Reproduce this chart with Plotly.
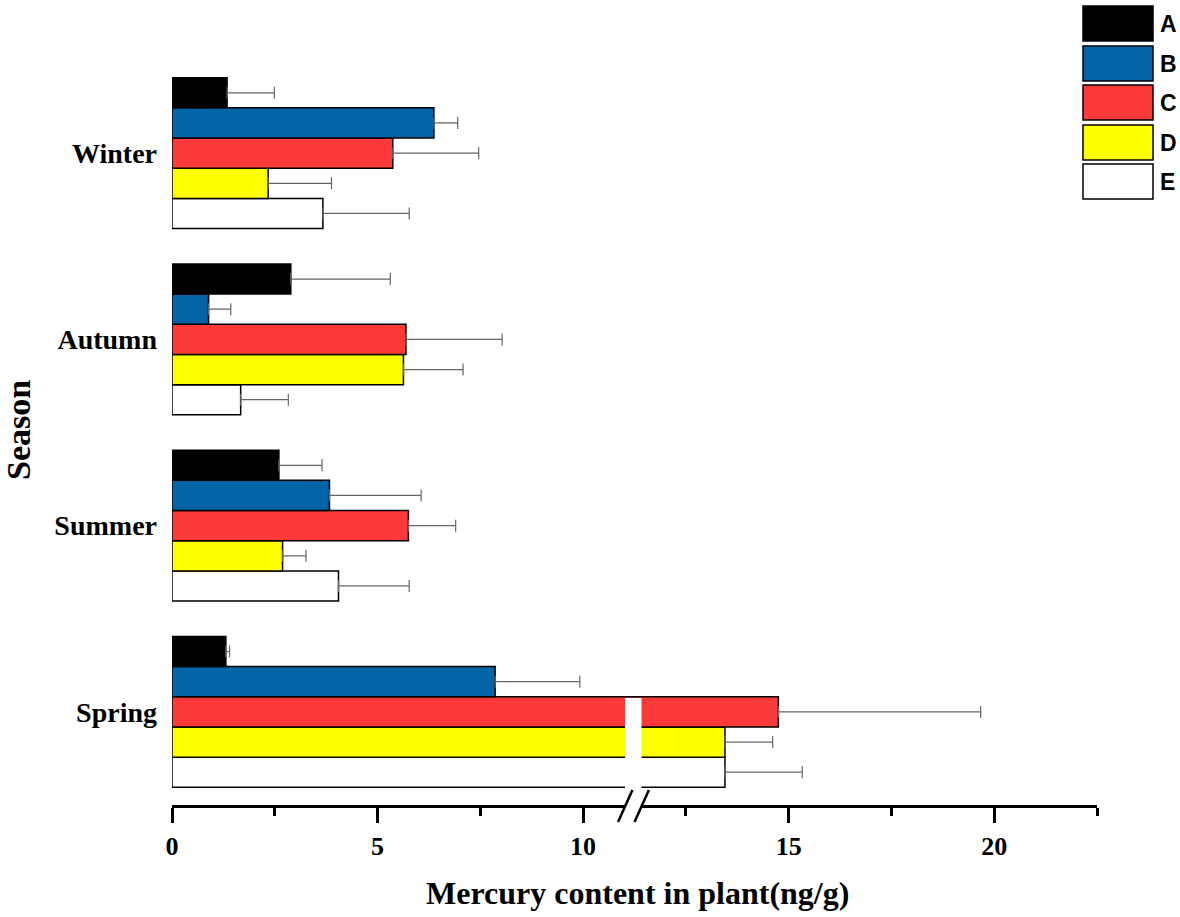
import plotly.graph_objects as go

# Mercury content in plant (ng/g) by season, five sites A-E
seasons = ["Spring", "Summer", "Autumn", "Winter"]
groups = ["A", "B", "C", "D", "E"]
colors = ["#000000", "#0563A8", "#FC3A3A", "#FFFF00", "#FFFFFF"]

# values per group, in the order of `seasons`
values = {
    "A": [1.31, 2.60, 2.89, 1.34],
    "B": [7.86, 3.83, 0.89, 6.37],
    "C": [14.75, 5.75, 5.69, 5.37],
    "D": [13.45, 2.69, 5.63, 2.34],
    "E": [13.45, 4.05, 1.67, 3.67],
}
errors = {
    "A": [0.09, 1.05, 2.42, 1.15],
    "B": [2.06, 2.23, 0.54, 0.58],
    "C": [4.92, 1.15, 2.34, 2.09],
    "D": [1.16, 0.57, 1.45, 1.54],
    "E": [1.88, 1.72, 1.16, 2.10],
}

x_ticks = [0, 5, 10, 15, 20]
x_minor = [2.5, 7.5, 12.5, 17.5, 22.5]
x_break = (11.02, 11.42)

W, H = 1180, 917
L, R, T, B = 172, 83, 60, 112
pw, ph = W - L - R, H - T - B


def px(x):
    return (x - L) / pw


def py(y):
    return (H - B - y) / ph


fig = go.Figure()

# plotly stacks horizontal groups bottom-up, so add E first to get A on top
for g, c in reversed(list(zip(groups, colors))):
    fig.add_trace(go.Bar(
        y=seasons,
        x=values[g],
        name=g,
        orientation="h",
        marker=dict(color=c, line=dict(color="#000000", width=1.5)),
        error_x=dict(type="data", array=errors[g], symmetric=False,
                     arrayminus=[0] * len(seasons),
                     color="#666666", thickness=1.2, width=6),
        showlegend=False,
    ))

shapes = []
# axis break: white gap through the long Spring bars and the x axis
shapes.append(dict(type="rect", xref="x", yref="paper",
                   x0=x_break[0], x1=x_break[1], y0=-0.006, y1=py(698),
                   fillcolor="white", line=dict(width=0), layer="above"))
for dx in (0.0, 0.4):
    shapes.append(dict(type="line", xref="x", yref="paper",
                       x0=10.85 + dx, x1=11.2 + dx, y0=py(822), y1=py(790),
                       line=dict(color="black", width=2.5), layer="above"))

# custom legend with large boxes
annotations = []
box_tops = [6, 46, 85, 125, 164]
for g, c, top in zip(groups, colors, box_tops):
    shapes.append(dict(type="rect", xref="paper", yref="paper",
                       x0=px(1083), x1=px(1153), y0=py(top + 35), y1=py(top),
                       fillcolor=c, line=dict(color="black", width=1.5)))
    annotations.append(dict(text=g, xref="paper", yref="paper",
                            x=px(1158), y=py(top + 18), xanchor="left", yanchor="middle",
                            showarrow=False,
                            font=dict(family="Liberation Sans", size=23, color="black", weight="bold")))

annotations.append(dict(text="Mercury content in plant(ng/g)", xref="paper", yref="paper",
                        x=px(637), y=py(893), xanchor="center", yanchor="middle", showarrow=False,
                        font=dict(family="Liberation Serif", size=32, color="black", weight="bold")))
annotations.append(dict(text="Season", xref="paper", yref="paper", textangle=-90,
                        x=px(19), y=py(430), xanchor="center", yanchor="middle", showarrow=False,
                        font=dict(family="Liberation Serif", size=34, color="black", weight="bold")))

fig.update_layout(
    width=W, height=H,
    margin=dict(l=L, r=R, t=T, b=B),
    plot_bgcolor="white", paper_bgcolor="white",
    barmode="group", bargap=0.19, bargroupgap=0,
    shapes=shapes, annotations=annotations,
    xaxis=dict(range=[0, 22.5], tickvals=x_ticks, ticks="outside", ticklen=15, tickwidth=2.5,
               tickcolor="black", showline=True, linewidth=2.5, linecolor="black",
               showgrid=False, zeroline=False, ticklabelstandoff=1,
               tickfont=dict(family="Liberation Serif", size=26, color="black", weight="bold"),
               minor=dict(tickvals=x_minor, ticks="outside", ticklen=8, tickwidth=2.5,
                          tickcolor="black", showgrid=False)),
    yaxis=dict(range=[-0.5, 3.5], showline=False, showgrid=False, zeroline=False,
               ticks="", ticklabelstandoff=14,
               tickfont=dict(family="Liberation Serif", size=28, color="black", weight="bold")),
)

fig.write_html("out.html", config={"displayModeBar": False},
               post_script="document.body.style.margin='0';")
